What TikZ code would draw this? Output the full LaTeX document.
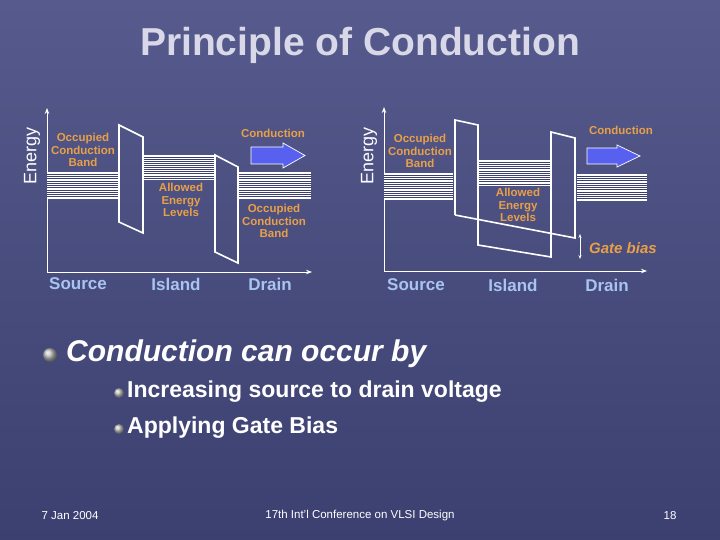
\documentclass[tikz,border=0pt]{standalone}
\usepackage{fontspec}
\setmainfont{Liberation Sans}
\usetikzlibrary{arrows.meta}
\definecolor{bgA}{HTML}{565A8C}
\definecolor{bgB}{HTML}{3C4070}
\definecolor{lbl}{HTML}{E8A048}
\definecolor{axl}{HTML}{A8C4F0}
\definecolor{ttl}{HTML}{D8D8E8}
\definecolor{arr}{HTML}{5860F0}
\tikzset{
 olab/.style={text=lbl,font=\bfseries\fontsize{11.5}{12.5}\selectfont,align=center,inner sep=0},
 alab/.style={text=axl,font=\bfseries\fontsize{17}{18}\selectfont,inner sep=0},
 wl/.style={draw=white,line width=1.6pt,line join=miter},
 ax/.style={draw=white,line width=1pt,-{Stealth[length=6pt]}},
 bul/.style={circle,inner sep=0,minimum size=14pt,shading=ball,ball color=white!75!black},
 btext/.style={text=white,inner sep=0,anchor=west},
 bigarrow/.style={fill=arr,draw=white,line width=0.7pt,line join=miter},
 foot/.style={text=white,font=\fontsize{11.5}{12}\selectfont},
}
\newcommand{\hband}[4]{\fill[white] (#1,#2) rectangle (#3,#4);
 \foreach \yy in {1,...,11}{\draw[bgB,line width=0.6pt] (#1,{#2+\yy*(#4-#2)/12}) -- (#3,{#2+\yy*(#4-#2)/12});}}
\begin{document}
\begin{tikzpicture}[x=1pt,y=-1pt]
\shade[top color=bgA,bottom color=bgB] (0,0) rectangle (720,540);
\useasboundingbox (0,0) rectangle (720,540);
\node[text=ttl,font=\bfseries\fontsize{39}{41}\selectfont] (title) at (360,45) {Principle of Conduction};
% ---- left diagram
\coordinate (lo) at (47,272);
\coordinate (ly) at (47,108);
\coordinate (lx) at (312,272);
\draw[ax] (lo) -- (ly);
\draw[ax] (lo) -- (lx);
\node[rotate=90,text=white,font=\fontsize{18}{19}\selectfont] (en1) at (32,156) {Energy};
\hband{47}{172}{118}{199}
\hband{143}{155}{215}{180}
\hband{238}{172}{311}{199}
\draw[wl] (119,222) -- (119,125) -- (143,137) -- (143,233) -- cycle;
\draw[wl] (215,252) -- (215,155) -- (238,167) -- (238,263) -- cycle;
\draw[bigarrow] (251,147) -- (283,147) -- (283,143) -- (305,155.5) -- (283,168) -- (283,164) -- (251,164) -- cycle;
\node[olab] (c1) at (273,133) {Conduction};
\node[olab] (o1) at (83,150) {Occupied\\Conduction\\Band};
\node[olab] (al1) at (181,200) {Allowed\\Energy\\Levels};
\node[olab] (o2) at (274,221) {Occupied\\Conduction\\Band};
\node[alab] (s1) at (78,284) {Source};
\node[alab] (i1) at (176,284) {Island};
\node[alab] (d1) at (270,284) {Drain};
% ---- right diagram
\coordinate (ro) at (384,271);
\coordinate (ry) at (384,107);
\coordinate (rx) at (647,271);
\draw[ax] (ro) -- (ry);
\draw[ax] (ro) -- (rx);
\node[rotate=90,text=white,font=\fontsize{18}{19}\selectfont] (en2) at (369,156) {Energy};
\hband{384}{173}{453}{200}
\hband{478}{160}{551}{186}
\hband{577}{174}{647}{201}
\draw[wl] (455,215) -- (455,120) -- (478,125) -- (478,245) -- (551,257) -- (551,132) -- (575,138) -- (575,238) -- (455,215);
\draw[bigarrow] (587,148) -- (617,148) -- (617,145) -- (640,156) -- (617,167) -- (617,164) -- (587,164) -- cycle;
\node[olab] (c2) at (621,130) {Conduction};
\node[olab] (o3) at (420,151) {Occupied\\Conduction\\Band};
\node[olab] (al2) at (518,205) {Allowed\\Energy\\Levels};
\coordinate (g1) at (580,234);
\coordinate (g2) at (580,259);
\draw[white,line width=1pt,{Stealth[length=4pt]}-{Stealth[length=4pt]}] (g1) -- (g2);
\node[text=lbl,font=\bfseries\itshape\fontsize{15}{16}\selectfont,anchor=west,inner sep=0] (gb) at (589,248) {Gate bias};
\node[alab] (s2) at (416,285) {Source};
\node[alab] (i2) at (513,285) {Island};
\node[alab] (d2) at (607,285) {Drain};
% ---- bullets
\node[bul] (b1) at (50,355) {};
\node[btext,font=\bfseries\itshape\fontsize{30}{32}\selectfont] (t1) at (66,354) {Conduction can occur by};
\node[bul,minimum size=10pt] (b2) at (119,393) {};
\node[btext,font=\bfseries\fontsize{23}{25}\selectfont] (t2) at (127,392) {Increasing source to drain voltage};
\node[bul,minimum size=10pt] (b3) at (119,429) {};
\node[btext,font=\bfseries\fontsize{23}{25}\selectfont] (t3) at (127,428) {Applying Gate Bias};
% ---- footer
\node[foot] (f1) at (70,516) {7 Jan 2004};
\node[foot] (f2) at (360,516) {17th Int'l Conference on VLSI Design};
\node[foot] (f3) at (670,516) {18};
\end{tikzpicture}
\end{document}
